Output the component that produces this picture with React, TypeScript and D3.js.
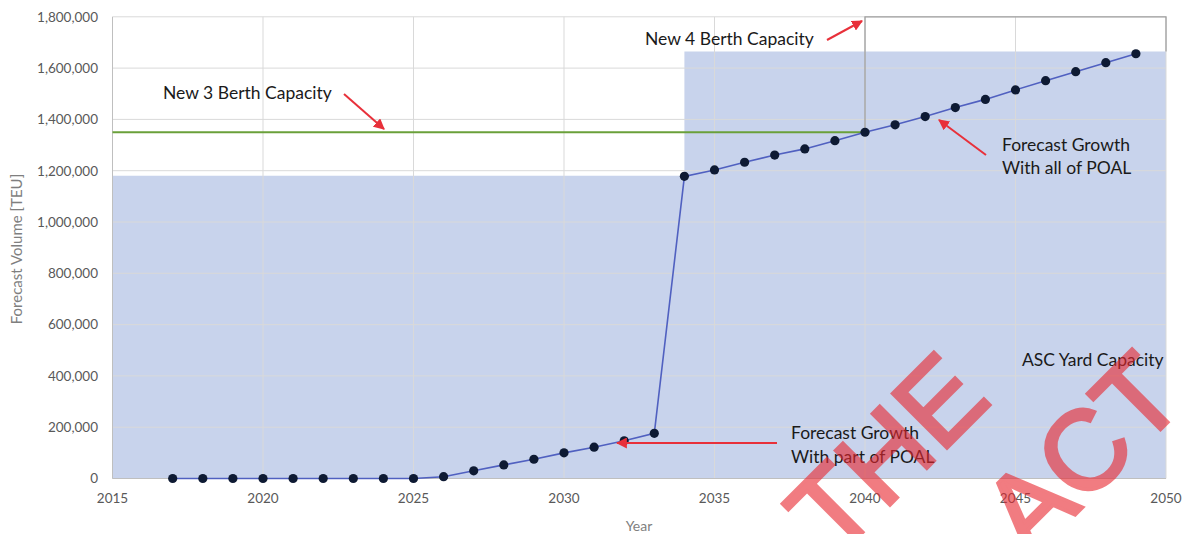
import React, { useLayoutEffect } from 'react';
import * as d3 from 'd3';

const years = [2017, 2018, 2019, 2020, 2021, 2022, 2023, 2024, 2025, 2026, 2027, 2028, 2029, 2030, 2031, 2032, 2033,
  2034, 2035, 2036, 2037, 2038, 2039, 2040, 2041, 2042, 2043, 2044, 2045, 2046, 2047, 2048, 2049];
const forecast = [0, 0, 0, 0, 0, 0, 0, 0, 0, 7000, 30000, 53000, 75000, 100000, 122000, 147000, 176000,
  1178000, 1203000, 1233000, 1261000, 1285000, 1317000, 1350000, 1379000, 1411000, 1446000, 1478000,
  1515000, 1551000, 1586000, 1621000, 1656000];
const yardYears = [2015, 2034, 2034, 2050];
const yardCapacity = [1180000, 1180000, 1665000, 1665000];
const berth3Years = [2015, 2040];
const berth3Capacity = [1350000, 1350000];
const berth4Years = [2040, 2040, 2050, 2050];
const berth4Capacity = [1350000, 1800000, 1800000, 1665000];
const xTicks = [2015, 2020, 2025, 2030, 2035, 2040, 2045, 2050];
const yTicks = [0, 200000, 400000, 600000, 800000, 1000000, 1200000, 1400000, 1600000, 1800000];

const W = 1191;
const H = 534;
const FONT = 'Lato, "Open Sans", sans-serif';

export default function App() {
  useLayoutEffect(() => {
    document.body.style.margin = '0';
  }, []);

  const x = d3.scaleLinear().domain([2015, 2050]).range([112.5, 1166]);
  const y = d3.scaleLinear().domain([0, 1800000]).range([478.5, 16.8]);
  const fmt = d3.format(',');

  const yardArea = d3.area<number>()
    .x((_, i) => x(yardYears[i]))
    .y0(y(0))
    .y1((d) => y(d))(yardCapacity);

  const lineGen = d3.line<number>().x((_, i) => x(years[i])).y((d) => y(d));
  const forecastPath = lineGen(forecast);
  const berth3Path = d3.line<number>().x((_, i) => x(berth3Years[i])).y((d) => y(d))(berth3Capacity);
  const berth4Path = d3.line<number>().x((_, i) => x(berth4Years[i])).y((d) => y(d))(berth4Capacity);

  const red = '#e8303a';
  const annText = { fontFamily: FONT, fontSize: 17.5, fill: '#1a1a1a' } as const;

  return (
    <svg width={W} height={H} style={{ display: 'block', background: '#fff' }}>
      <defs>
        <marker id="arr" viewBox="0 0 10 10" refX="9" refY="5" markerWidth="5.5" markerHeight="5.5" orient="auto">
          <path d="M0,0 L10,5 L0,10 z" fill={red} />
        </marker>
      </defs>

      {/* ASC yard capacity area */}
      <path d={yardArea || ''} fill="#c8d3ec" />

      {/* gridlines */}
      {yTicks.map((t) => (
        <line key={'gy' + t} x1={x(2015)} x2={x(2050)} y1={y(t)} y2={y(t)} stroke="#d9d9d9" strokeWidth={1} />
      ))}
      {xTicks.slice(1).map((t) => (
        <line key={'gx' + t} x1={x(t)} x2={x(t)} y1={y(0)} y2={y(1800000)} stroke="#d9d9d9" strokeWidth={1} />
      ))}

      {/* axes */}
      <line x1={x(2015)} x2={x(2015)} y1={y(0)} y2={y(1800000)} stroke="#bfbfbf" strokeWidth={1} />
      <line x1={x(2015)} x2={x(2050)} y1={y(0)} y2={y(0)} stroke="#bfbfbf" strokeWidth={1} />

      {yTicks.map((t) => (
        <text key={'ty' + t} x={98} y={y(t) + 4.8} textAnchor="end" fontFamily={FONT} fontSize={13.5} fill="#595959">
          {fmt(t)}
        </text>
      ))}
      {xTicks.map((t) => (
        <text key={'tx' + t} x={x(t)} y={503} textAnchor="middle" fontFamily={FONT} fontSize={13.5} fill="#595959">
          {t}
        </text>
      ))}
      <text x={639} y={531} textAnchor="middle" fontFamily={FONT} fontSize={14} fill="#7f7f7f">Year</text>
      <text transform="translate(22,249) rotate(-90)" textAnchor="middle" fontFamily={FONT} fontSize={15} fill="#7f7f7f">
        Forecast Volume [TEU]
      </text>

      {/* capacity lines */}
      <path d={berth3Path || ''} fill="none" stroke="#6aa03a" strokeWidth={2} />
      <path d={berth4Path || ''} fill="none" stroke="#a0a0a0" strokeWidth={1.3} />

      {/* forecast */}
      <path d={forecastPath || ''} fill="none" stroke="#5060c0" strokeWidth={1.6} />
      {forecast.map((v, i) => (
        <circle key={'p' + i} cx={x(years[i])} cy={y(v)} r={4.6} fill="#0e1a33" />
      ))}

      {/* annotations */}
      <text x={163} y={99} {...annText}>New 3 Berth Capacity</text>
      <text x={645} y={45} {...annText}>New 4 Berth Capacity</text>
      <text x={1002} y={151} {...annText}>Forecast Growth</text>
      <text x={1002} y={174} {...annText}>With all of POAL</text>
      <text x={791} y={439} {...annText}>Forecast Growth</text>
      <text x={791} y={463} {...annText}>With part of POAL</text>
      <text x={1022} y={366} {...annText}>ASC Yard Capacity</text>

      {/* red arrows */}
      <line x1={344} y1={94} x2={384} y2={129} stroke={red} strokeWidth={2} markerEnd="url(#arr)" />
      <line x1={827} y1={40} x2={862} y2={21} stroke={red} strokeWidth={2} markerEnd="url(#arr)" />
      <line x1={986} y1={155} x2={939} y2={120} stroke={red} strokeWidth={2} markerEnd="url(#arr)" />
      <line x1={777} y1={443} x2={617} y2={443} stroke={red} strokeWidth={2} markerEnd="url(#arr)" />

      {/* watermark */}
      <g opacity={0.6} fill="#e8262e" stroke="#e8262e" strokeWidth={3.5} strokeLinejoin="miter" fontFamily='"Liberation Sans", Arial, sans-serif' fontSize={112}>
        <text transform="translate(835,560) rotate(-45)">THE</text>
        <text transform="translate(1030,560) rotate(-45)">ACT</text>
      </g>
    </svg>
  );
}
